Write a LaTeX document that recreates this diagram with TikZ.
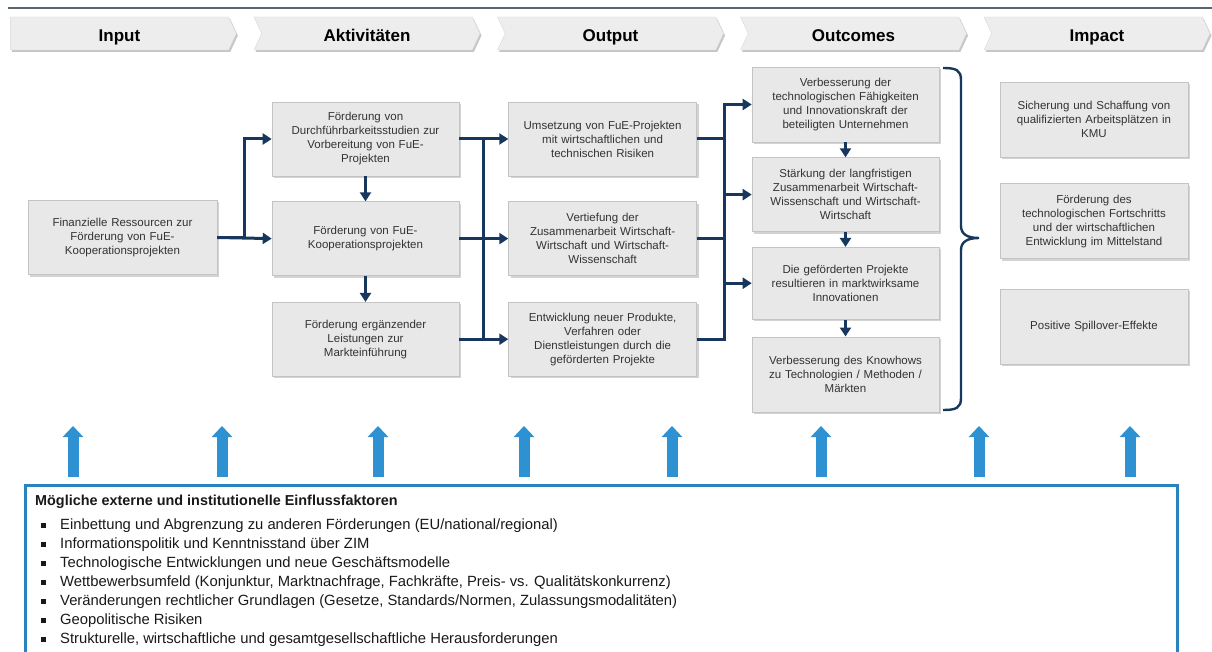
\documentclass[tikz,border=0pt]{standalone}
\usepackage{fontspec}
\setmainfont{Liberation Sans}
\usepackage{xcolor}
\usetikzlibrary{shapes,shapes.symbols,arrows.meta,positioning,shadows}

\definecolor{navy}{HTML}{17375E}
\definecolor{skyblue}{HTML}{2E92D2}
\definecolor{boxgray}{HTML}{E8E8E8}
\definecolor{boxline}{HTML}{C4C4C4}
\definecolor{rulegray}{HTML}{5A666E}

\newcommand{\bul}{\makebox[25pt][l]{\hspace{6pt}\rule[2pt]{5pt}{5pt}}}

\begin{document}
\begin{tikzpicture}[x=1pt, y=-1pt,
    phase/.style={signal, signal to=east, signal from=west, signal pointer angle=130, draw=black!15, fill=black!7, minimum width=226pt, minimum height=33pt, inner sep=0pt, text height=17pt, text depth=0pt, font=\fontsize{17}{19}\selectfont\bfseries, drop shadow={shadow xshift=1.5pt, shadow yshift=-2pt, opacity=.45}},
    block/.style={rectangle, draw=boxline, line width=.6pt, fill=boxgray, text width=182pt, align=center, minimum width=187pt, minimum height=74pt, inner sep=0pt, text=black!80, font=\fontsize{11.5}{14}\selectfont, drop shadow={shadow xshift=2pt, shadow yshift=-2pt, opacity=.35}},
    arrow/.style={-{Triangle[length=9pt,width=11pt]}, line width=3pt, draw=navy},
    link/.style={line width=3pt, draw=navy},
    curly/.style={line width=2.4pt, draw=navy},
    uparrow/.style={-{Triangle[length=11pt,width=20pt]}, line width=11pt, draw=skyblue},
    infobox/.style={line width=3pt, draw=skyblue!90!black}]

    \useasboundingbox (0,0) rectangle (1212,652);
    \clip (0,0) rectangle (1212,652);

    % top rule and phase headers
    \draw[rulegray, line width=2pt] (8,8) -- (1212,8);
    \node[phase, signal from=nowhere] (hin) at (119.5,33.5) {Input};
    \node[phase] (hact) at (367,33.5) {Aktivitäten};
    \node[phase] (hout) at (610.5,33.5) {Output};
    \node[phase] (hoc) at (853.5,33.5) {Outcomes};
    \node[phase] (himp) at (1097,33.5) {Impact};

    % input
    \node[block, minimum width=189pt] (in) at (122.5,237.5) {Finanzielle Ressourcen zur\\Förderung von FuE-\\Kooperationsprojekten};

    % activities
    \node[block] (act1) at (365.5,139) {Förderung von\\Durchführbarkeitsstudien zur\\Vorbereitung von FuE-\\Projekten};
    \node[block, below=25pt of act1] (act2) {Förderung von FuE-\\Kooperationsprojekten};
    \node[block, below=26pt of act2] (act3) {Förderung ergänzender\\Leistungen zur\\Markteinführung};

    % outputs
    \node[block, minimum width=188pt, right=49pt of act1] (out1) {Umsetzung von FuE-Projekten\\mit wirtschaftlichen und\\technischen Risiken};
    \node[block, minimum width=188pt, right=49pt of act2] (out2) {Vertiefung der\\Zusammenarbeit Wirtschaft-\\Wirtschaft und Wirtschaft-\\Wissenschaft};
    \node[block, minimum width=188pt, right=49pt of act3] (out3) {Entwicklung neuer Produkte,\\Verfahren oder\\Dienstleistungen durch die\\geförderten Projekte};

    % outcomes
    \node[block, minimum height=75pt] (oc1) at (845.5,104.5) {Verbesserung der\\technologischen Fähigkeiten\\und Innovationskraft der\\beteiligten Unternehmen};
    \node[block, below=15pt of oc1] (oc2) {Stärkung der langfristigen\\Zusammenarbeit Wirtschaft-\\Wissenschaft und Wirtschaft-\\Wirtschaft};
    \node[block, minimum height=72pt, below=15pt of oc2] (oc3) {Die geförderten Projekte\\resultieren in marktwirksame\\Innovationen};
    \node[block, minimum height=75pt, below=17pt of oc3] (oc4) {Verbesserung des Knowhows\\zu Technologien / Methoden /\\Märkten};

    % impact
    \node[block, minimum width=188pt, minimum height=75pt] (imp1) at (1094,119.5) {Sicherung und Schaffung von\\qualifizierten Arbeitsplätzen in\\KMU};
    \node[block, minimum width=188pt, minimum height=75pt, below=26pt of imp1] (imp2) {Förderung des\\technologischen Fortschritts\\und der wirtschaftlichen\\Entwicklung im Mittelstand};
    \node[block, minimum width=188pt, minimum height=75pt, below=30pt of imp2] (imp3) {Positive Spillover-Effekte};

    % connectors
    \coordinate (busL) at (244,0);
    \coordinate (busM) at (483.5,0);
    \coordinate (busR) at (724,0);

    \draw[arrow] (in.east) -| (busL |- act1.west) -- (act1.west);
    \draw[arrow] (in.east) -- (act2.west);
    \draw[arrow] (act1) -- (act2);
    \draw[arrow] (act2) -- (act3);

    \draw[arrow] (act1.east) -- (out1.west);
    \draw[arrow] (act2.east) -- (out2.west);
    \draw[arrow] (act3.east) -- (out3.west);
    \draw[link] (busM |- act1.east) -- (busM |- act3.east);

    \draw[arrow] (out3.east) -| (busR |- oc1.west) -- (oc1.west);
    \draw[link] (out1.east) -- (busR |- out1.east);
    \draw[link] (out2.east) -- (busR |- out2.east);
    \draw[arrow] (busR |- oc2.west) -- (oc2.west);
    \draw[arrow] (busR |- oc3.west) -- (oc3.west);

    \draw[arrow] (oc1) -- (oc2);
    \draw[arrow] (oc2) -- (oc3);
    \draw[arrow] (oc3) -- (oc4);

    % brace
    \draw[curly] (943,68) .. controls (956,68) and (961,70) .. (961,80)
        -- (961,226) .. controls (961,234) and (967,238) .. (979,238)
        .. controls (967,238) and (961,242) .. (961,250)
        -- (961,398) .. controls (961,408) and (956,410) .. (943,410);

    % external factors
    \foreach \x in {73,222,378,524,672,821,979,1130}
        \draw[uparrow] (\x,477) -- (\x,426);
    \draw[infobox] (25,660) |- (1177,485) -- (1177,660);
    \node[anchor=north west, align=left, inner sep=0pt, text=black!90, font=\fontsize{14.8}{19}\selectfont] (infl) at (35,495) {%
        {\fontsize{14.4}{19}\selectfont\bfseries Mögliche externe und institutionelle Einflussfaktoren}\\[5pt]
        \bul Einbettung und Abgrenzung zu anderen Förderungen (EU/national/regional)\\
        \bul Informationspolitik und Kenntnisstand über ZIM\\
        \bul Technologische Entwicklungen und neue Geschäftsmodelle\\
        \bul Wettbewerbsumfeld (Konjunktur, Marktnachfrage, Fachkräfte, Preis- vs. Qualitätskonkurrenz)\\
        \bul Veränderungen rechtlicher Grundlagen (Gesetze, Standards/Normen, Zulassungsmodalitäten)\\
        \bul Geopolitische Risiken\\
        \bul Strukturelle, wirtschaftliche und gesamtgesellschaftliche Herausforderungen};

\end{tikzpicture}
\end{document}
